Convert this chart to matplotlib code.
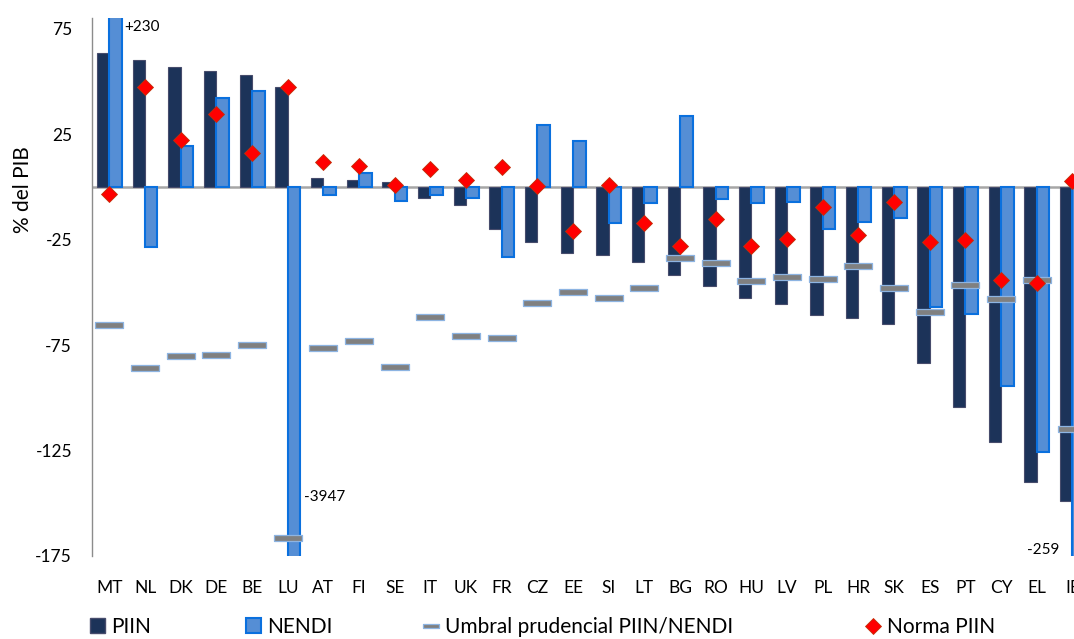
import numpy as np
import matplotlib
matplotlib.use("Agg")
import matplotlib.pyplot as plt
from matplotlib.patches import Patch
from matplotlib.lines import Line2D

plt.rcParams["font.family"] = ["Lato", "DejaVu Sans"]
plt.rcParams["axes.unicode_minus"] = False

countries = ["MT", "NL", "DK", "DE", "BE", "LU", "AT", "FI", "SE", "IT", "UK", "FR",
             "CZ", "EE", "SI", "LT", "BG", "RO", "HU", "LV", "PL", "HR", "SK", "ES",
             "PT", "CY", "EL", "IE"]

piin = [63.4, 60.2, 56.8, 54.9, 52.8, 47.5, 4.3, 3.1, 2.4, -5.1, -8.6, -20.1,
        -26.4, -31.4, -32.1, -35.8, -41.7, -47.2, -52.6, -55.7, -60.6, -62.0, -65.1, -83.5,
        -104.3, -121.1, -140.0, -148.9]

nendi = [230, -28.6, 19.1, 42.0, 45.6, -3947, -4.0, 6.7, -6.7, -3.9, -5.1, -33.2,
         29.1, 21.9, -17.4, -7.7, 33.4, -5.6, -7.8, -7.1, -20.2, -16.7, -14.7, -57.1,
         -60.2, -94.4, -125.6, -259]

umbral = [-65.3, -85.8, -80.4, -79.8, -75.2, -166.5, -76.5, -73.3, -85.6, -61.5, -70.7, -71.9,
          -55.2, -50.0, -52.7, -48.1, -33.9, -36.0, -44.5, -42.9, -43.8, -37.5, -48.2, -59.3,
          -46.7, -53.4, -44.0, -114.9]

norma = [-3.2, 47.3, 22.4, 34.3, 16.0, 47.3, 11.7, 9.8, 0.7, 8.3, 3.1, 9.3,
         0.4, -21.0, 1.0, -17.0, -28.1, -15.1, -28.2, -24.9, -9.6, -22.8, -7.3, -26.2,
         -25.1, -44.0, -45.5, 2.9]

# bars that run off the axis get their value written next to them
offscale = {"MT": "+230", "LU": "-3947", "IE": "-259"}

C_PIIN = "#1c3359"
C_PIIN_EDGE = "#474c6c"
C_NENDI = "#558ed5"
C_NENDI_EDGE = "#0a70de"
C_UMBRAL = "#808080"
C_UMBRAL_EDGE = "#8db4e2"
C_NORMA = "#ff0000"
C_NORMA_EDGE = "#c0300a"

# flat rectangle used as the threshold marker
dash = [(-1, -0.21), (1, -0.21), (1, 0.21), (-1, 0.21), (-1, -0.21)]

x = np.arange(len(countries))
w = 0.35

fig = plt.figure(figsize=(10.74, 6.39), dpi=100)
ax = fig.add_axes([91.5 / 1074, 1 - 556 / 639, 998.8 / 1074, 538 / 639])

ax.axhline(0, color="#a6a6a6", lw=1.8, zorder=1)
ax.bar(x - w / 2, piin, w, color=C_PIIN, edgecolor=C_PIIN_EDGE, lw=0.8, zorder=2)
ax.bar(x + w / 2, nendi, w, color=C_NENDI, edgecolor=C_NENDI_EDGE, lw=1.5, zorder=2)
ax.plot(x, umbral, ls="none", marker=dash, ms=19.5, mfc=C_UMBRAL, mec=C_UMBRAL_EDGE,
        mew=0.9, zorder=3, clip_on=False)
ax.plot(x, norma, ls="none", marker="D", ms=8.3, mfc=C_NORMA, mec=C_NORMA_EDGE,
        mew=0.6, zorder=4, clip_on=False)

ax.text(0.42, 75.5, offscale["MT"], fontsize=11, va="center", ha="left")
ax.text(5.47, -147, offscale["LU"], fontsize=11, va="center", ha="left")
ax.text(26.62, -172, offscale["IE"], fontsize=11, va="center", ha="right")

ax.set_xlim(-0.5, len(countries) - 0.5)
ax.set_ylim(-175, 80)
ax.set_yticks(np.arange(-175, 76, 50))
ax.set_xticks(x)
ax.set_xticklabels(countries)
ax.tick_params(axis="y", length=0, pad=14, labelsize=12.5)
ax.tick_params(axis="x", length=0, pad=17, labelsize=12.5)
for s in ["top", "right", "bottom"]:
    ax.spines[s].set_visible(False)
ax.spines["left"].set_color("#8c8c8c")
ax.spines["left"].set_linewidth(1.0)

fig.text(23 / 1074, 1 - 190 / 639, "% del PIB", rotation=90, fontsize=15,
         ha="center", va="center")

handles = [
    Patch(facecolor=C_PIIN, edgecolor=C_PIIN_EDGE, label="PIIN"),
    Patch(facecolor=C_NENDI, edgecolor=C_NENDI_EDGE, lw=1.5, label="NENDI"),
    Line2D([], [], ls="none", marker=dash, ms=12, mfc=C_UMBRAL, mec=C_UMBRAL_EDGE,
           mew=0.9, label="Umbral prudencial PIIN/NENDI"),
    Line2D([], [], ls="none", marker="D", ms=8, mfc=C_NORMA, mec=C_NORMA_EDGE,
           mew=0.6, label="Norma PIIN"),
]
legend_x = [90, 246, 424, 866]
for h, lx in zip(handles, legend_x):
    fig.legend(handles=[h], loc="center left", bbox_to_anchor=(lx / 1074, 1 - 627 / 639),
               frameon=False, fontsize=15, handlelength=0.7, handleheight=0.7,
               handletextpad=0.3, borderpad=0, borderaxespad=0)

fig.savefig("out.png", dpi=100)
